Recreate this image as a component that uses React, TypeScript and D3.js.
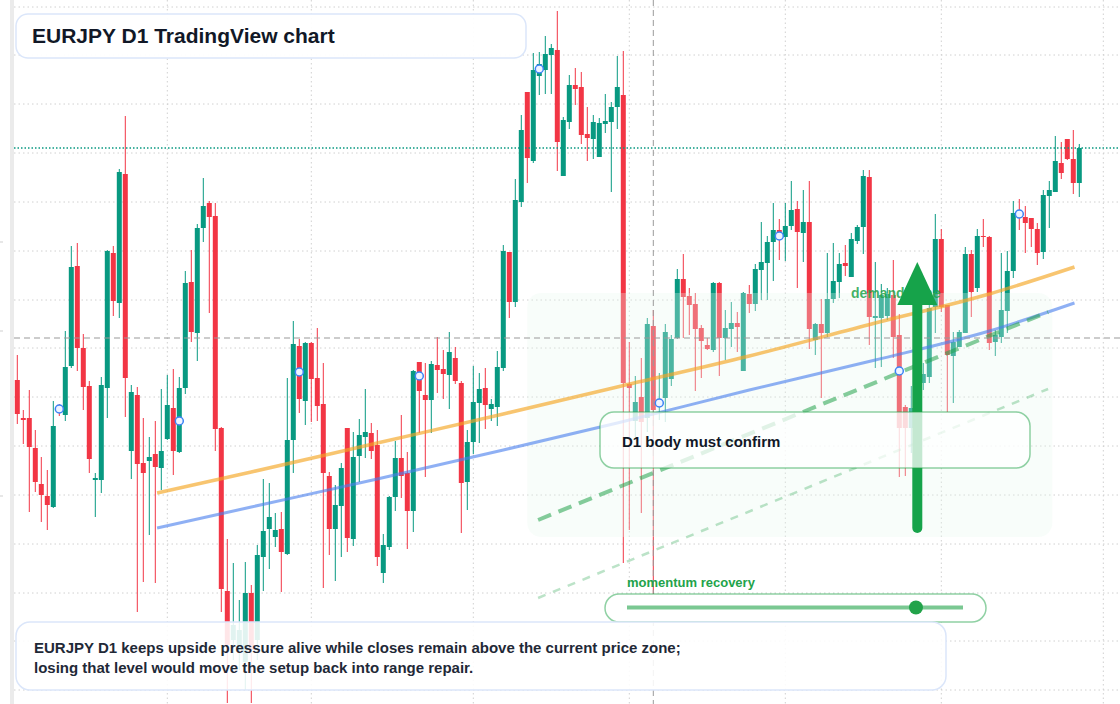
import React from 'react'
import * as d3 from 'd3'

const width = 1120
const height = 704

// daily candles, [open, high, low, close]
const candles: number[][] = [
  [160.20, 160.45, 159.76, 159.86], [159.82, 159.90, 159.56, 159.80], [159.82, 160.10, 158.88, 159.53], [159.52, 159.70, 159.08, 159.18],
  [159.16, 159.43, 158.78, 159.05], [159.04, 159.30, 158.70, 158.95], [158.93, 159.99, 158.92, 159.74], [159.92, 159.96, 159.84, 159.88],
  [159.85, 160.69, 159.79, 160.33], [160.34, 161.54, 160.32, 161.33], [161.34, 161.57, 160.29, 160.52], [160.52, 160.66, 159.90, 160.13],
  [160.14, 160.19, 159.27, 159.41], [159.20, 159.27, 158.83, 159.22], [159.20, 160.23, 159.07, 160.15], [160.12, 161.50, 159.82, 161.49],
  [161.47, 161.54, 160.84, 160.99], [160.97, 162.31, 160.82, 162.28], [162.26, 162.84, 159.83, 160.22], [159.49, 160.15, 159.21, 160.08],
  [160.05, 160.13, 157.88, 159.36], [159.37, 159.82, 158.18, 159.27], [159.39, 159.63, 158.65, 159.43], [159.46, 159.79, 158.17, 159.33],
  [159.32, 160.11, 159.10, 159.49], [159.61, 160.25, 159.60, 159.95], [159.92, 160.31, 159.25, 159.49], [159.48, 160.23, 159.47, 160.12],
  [160.12, 161.29, 160.06, 161.17], [161.18, 161.50, 160.58, 160.68], [160.67, 161.76, 160.39, 161.72], [161.72, 162.22, 161.58, 161.94],
  [161.97, 161.99, 160.87, 161.83], [161.84, 161.97, 159.49, 159.71], [159.72, 159.73, 157.88, 158.11], [158.09, 158.61, 156.97, 157.55],
  [157.60, 158.37, 157.40, 157.75], [157.50, 158.00, 157.30, 157.70], [157.38, 158.38, 157.10, 158.07], [158.07, 158.15, 156.97, 157.50],
  [157.60, 158.55, 157.40, 158.45], [158.43, 159.21, 158.09, 158.69], [158.71, 159.17, 158.31, 158.83], [158.63, 158.87, 158.53, 158.70],
  [158.71, 158.88, 158.08, 158.48], [158.46, 160.22, 158.45, 159.60], [159.60, 160.79, 159.27, 160.56], [160.54, 160.61, 159.87, 160.01],
  [159.99, 160.58, 159.75, 160.57], [160.57, 160.58, 159.78, 160.21], [160.22, 160.72, 159.79, 159.94], [159.96, 160.37, 158.12, 159.27],
  [159.24, 159.28, 158.45, 158.71], [158.71, 159.15, 158.19, 158.95], [158.94, 159.37, 158.43, 159.32], [159.72, 159.72, 158.48, 158.62],
  [158.61, 159.68, 158.54, 159.43], [159.44, 159.81, 159.18, 159.65], [159.63, 160.11, 159.42, 159.68], [159.67, 159.77, 159.41, 159.49],
  [159.55, 159.70, 158.34, 158.43], [158.27, 158.66, 158.17, 158.55], [158.53, 159.04, 158.50, 159.03], [159.03, 159.59, 158.89, 159.42],
  [159.42, 159.85, 159.02, 159.24], [159.27, 159.48, 158.51, 158.89], [158.89, 160.30, 158.68, 160.29], [160.38, 160.38, 159.67, 160.09],
  [160.05, 160.37, 159.23, 160.00], [160.00, 160.39, 159.67, 160.36], [160.35, 160.63, 160.07, 160.30], [160.31, 160.50, 160.01, 160.26],
  [160.25, 160.68, 159.91, 160.48], [160.42, 160.53, 160.16, 160.19], [160.17, 160.19, 158.67, 159.17], [159.18, 159.70, 158.90, 159.58],
  [159.58, 160.34, 159.46, 159.98], [159.97, 160.27, 159.57, 160.11], [160.12, 160.32, 159.71, 159.95], [159.91, 160.01, 159.79, 159.96],
  [159.93, 160.49, 159.74, 160.33], [160.32, 161.55, 160.29, 161.49], [161.48, 161.48, 160.82, 160.98], [160.98, 162.21, 160.93, 162.00],
  [161.98, 162.85, 161.93, 162.70], [163.08, 163.08, 162.17, 162.42], [162.39, 163.47, 162.37, 163.30], [163.24, 163.48, 163.05, 163.36],
  [163.30, 163.64, 163.06, 163.46], [163.45, 163.56, 163.06, 163.52], [163.50, 163.89, 162.29, 162.58], [162.24, 162.83, 162.24, 162.80],
  [162.78, 163.25, 162.71, 163.15], [163.15, 163.32, 162.95, 163.11], [163.13, 163.28, 162.56, 162.65], [162.66, 162.93, 162.39, 162.62],
  [162.61, 162.85, 162.41, 162.78], [162.43, 162.82, 162.43, 162.77], [162.76, 163.06, 162.67, 162.79], [162.78, 162.98, 162.08, 162.93],
  [162.93, 163.44, 162.71, 163.13], [163.05, 163.49, 158.37, 160.17], [160.16, 160.58, 158.70, 160.12], [159.79, 160.24, 159.60, 159.98],
  [160.03, 160.42, 158.87, 159.78], [159.82, 160.82, 159.68, 160.76], [160.74, 160.90, 158.00, 159.90], [159.96, 160.27, 159.80, 160.00],
  [160.02, 160.76, 159.78, 160.68], [160.21, 160.65, 160.14, 160.61], [160.62, 161.31, 160.61, 161.21], [161.21, 161.46, 160.62, 161.03],
  [161.04, 161.12, 160.65, 160.95], [160.96, 161.07, 160.09, 160.71], [160.72, 160.75, 160.22, 160.59], [160.55, 160.62, 160.50, 160.51],
  [160.50, 161.18, 160.48, 161.17], [161.17, 161.18, 160.24, 160.62], [160.62, 160.90, 160.40, 160.72], [160.71, 160.98, 160.53, 160.77],
  [160.77, 160.88, 160.48, 160.73], [160.29, 161.08, 160.29, 161.07], [161.06, 161.15, 160.87, 160.96], [160.96, 161.36, 160.89, 161.31],
  [161.30, 161.78, 161.00, 161.38], [161.37, 161.64, 161.00, 161.58], [161.58, 161.97, 161.19, 161.70], [161.70, 161.81, 161.40, 161.64],
  [161.63, 161.97, 161.39, 161.74], [161.74, 162.19, 161.70, 161.90], [161.91, 161.99, 161.12, 161.68], [161.67, 162.10, 161.38, 161.78],
  [161.78, 162.19, 160.51, 160.71], [160.60, 160.77, 160.45, 160.76], [160.76, 161.01, 160.02, 160.67], [160.67, 161.47, 160.63, 161.01],
  [161.01, 161.57, 160.97, 161.19], [161.18, 161.47, 161.02, 161.36], [161.37, 161.55, 161.24, 161.34], [161.23, 161.67, 161.23, 161.61],
  [161.59, 161.75, 161.56, 161.73], [161.73, 162.30, 161.46, 162.24], [162.23, 162.30, 160.55, 160.83], [160.82, 161.38, 160.32, 160.84],
  [160.82, 161.16, 160.33, 161.05], [160.84, 161.12, 160.80, 161.06], [161.05, 161.40, 160.42, 160.63], [160.65, 160.86, 159.23, 159.72],
  [159.93, 159.95, 159.24, 159.72], [159.72, 160.14, 159.47, 159.92], [160.00, 160.30, 159.90, 160.20], [160.17, 160.37, 160.10, 160.26],
  [160.23, 161.03, 160.17, 160.92], [160.93, 161.86, 160.67, 161.61], [161.61, 161.71, 160.88, 160.93], [160.95, 160.95, 159.88, 160.45],
  [160.44, 160.68, 159.97, 160.58], [160.53, 160.70, 160.53, 160.68], [160.67, 161.53, 160.67, 161.46], [161.46, 161.50, 160.83, 161.08],
  [161.12, 161.71, 161.08, 161.64], [161.64, 161.81, 161.53, 161.63], [161.63, 161.64, 160.50, 160.57], [160.58, 160.70, 160.44, 160.65],
  [160.63, 161.47, 160.57, 160.90], [160.89, 161.49, 160.67, 161.29], [161.29, 161.99, 161.22, 161.87], [161.89, 162.01, 161.70, 161.83],
  [161.83, 161.94, 161.47, 161.77], [161.82, 161.82, 161.53, 161.71], [161.71, 161.77, 161.35, 161.47], [161.48, 162.10, 161.41, 162.05],
  [162.04, 162.19, 161.72, 162.10], [162.08, 162.64, 162.08, 162.39], [162.37, 162.58, 162.21, 162.27], [162.61, 162.61, 162.40, 162.41],
  [162.41, 162.70, 162.06, 162.17], [162.17, 162.56, 162.03, 162.52],
]

// horizontal grid (price) and vertical grid (bar index)
const priceGrid = [163.93, 163.45, 162.96, 162.47, 161.98, 161.49, 161.00, 160.52, 160.03, 159.54, 159.05, 158.56, 158.07, 157.59, 157.10]
const timeGrid = [25, 49, 76, 102, 128, 154, 181]

// moving averages sampled at bar indices
const maIdx = [23.3, 39, 60, 81, 100, 122, 143, 162, 176.2]
const maFast = [159.07, 159.28, 159.57, 159.86, 160.13, 160.44, 160.77, 161.06, 161.33]
const maSlow = [158.72, 158.93, 159.21, 159.50, 159.77, 160.10, 160.40, 160.69, 160.97]

// rising channel
const channelIdx = [86.8, 171.8]
const channelUpper = [158.80, 160.88]
const channelLower = [158.02, 160.11]

// demand zone [startIdx, endIdx], [top, bottom]
const zoneIdx = [85, 172.5]
const zonePrice = [161.07, 158.63]

const markerIdx = [7, 27, 47, 67, 87, 107, 127, 147, 167]
const markerVals = [159.91, 159.79, 160.28, 160.24, 163.31, 159.97, 161.64, 160.29, 161.86]

const lastPrice = 162.52
const refPrice = 160.62
const crossIdx = 106

const arrowIdx = 150
const arrowFrom = 158.72
const arrowTo = 161.38

const momentum = 0.86

const titleText = 'EURJPY D1 TradingView chart'
const noteLines = [
  'EURJPY D1 keeps upside pressure alive while closes remain above the current price zone;',
  'losing that level would move the setup back into range repair.',
]

const font = '"Liberation Sans", Arial, Helvetica, sans-serif'
const up = '#089981'
const down = '#f23645'
const green = '#22a34a'

export default function App() {
  const x = d3.scaleLinear().domain([0, 177]).range([17.3, 1079.3])
  const y = d3.scaleLinear().domain([164, 156.96]).range([0, height])
  const bodyW = 5

  const maLine = (vals: number[]) =>
    d3.line<number>().x((_, i) => x(maIdx[i])).y(d => y(d)).curve(d3.curveMonotoneX)(vals) || ''
  const straight = (vals: number[]) =>
    d3.line<number>().x((_, i) => x(channelIdx[i])).y(d => y(d))(vals) || ''

  const ax = x(arrowIdx)
  const ay0 = y(arrowFrom)
  const ay1 = y(arrowTo)

  const sliderX = d3.scaleLinear().domain([0, 1]).range([627, 963])

  return (
    <svg width={width} height={height} style={{ position: 'absolute', left: 0, top: 0 }} fontFamily={font}>
      <rect width={width} height={height} fill="#fff" />
      <rect x={10} y={0} width={4} height={height} fill="#ebebeb" />
      {[242, 331, 496].map(t => (
        <line key={t} x1={0} x2={3} y1={t} y2={t} stroke="#cfcfcf" />
      ))}

      {priceGrid.map(p => (
        <line key={p} x1={14} x2={width} y1={y(p)} y2={y(p)} stroke="#d0d0d0" strokeDasharray="1.5 3" />
      ))}
      {timeGrid.map(t => (
        <line key={t} x1={x(t)} x2={x(t)} y1={0} y2={height} stroke="#d0d0d0" strokeDasharray="1.5 3" />
      ))}

      {candles.map((c, i) => {
        const [o, h, l, cl] = c
        const col = cl >= o ? up : down
        const top = y(Math.max(o, cl))
        const bh = Math.max(1, Math.abs(y(o) - y(cl)))
        return (
          <g key={i}>
            <line x1={x(i)} x2={x(i)} y1={y(h)} y2={y(l)} stroke={col} strokeWidth={1} />
            <rect x={x(i) - bodyW / 2} y={top} width={bodyW} height={bh} fill={col} />
          </g>
        )
      })}

      <rect x={x(zoneIdx[0])} y={y(zonePrice[0])} width={x(zoneIdx[1]) - x(zoneIdx[0])}
        height={y(zonePrice[1]) - y(zonePrice[0])} rx={14} fill="#e9f9ef" fillOpacity={0.3} />

      <path d={maLine(maFast)} fill="none" stroke="#f5a623" strokeOpacity={0.65} strokeWidth={3.5} />
      <path d={maLine(maSlow)} fill="none" stroke="#4a80ee" strokeOpacity={0.62} strokeWidth={3} />
      <path d={straight(channelUpper)} fill="none" stroke={green} strokeOpacity={0.55} strokeWidth={4} strokeDasharray="14 8" />
      <path d={straight(channelLower)} fill="none" stroke={green} strokeOpacity={0.3} strokeWidth={2.5} strokeDasharray="8 8" />

      <line x1={14} x2={width} y1={y(lastPrice)} y2={y(lastPrice)} stroke={up} strokeWidth={1.5} strokeDasharray="1.5 2" />
      <line x1={14} x2={width} y1={y(refPrice)} y2={y(refPrice)} stroke="#9a9a9a" strokeWidth={1.2} strokeDasharray="6 4" />
      <line x1={x(crossIdx)} x2={x(crossIdx)} y1={0} y2={height} stroke="#9a9a9a" strokeWidth={1} strokeDasharray="6 4" />

      {markerIdx.map((m, i) => (
        <circle key={m} cx={x(m)} cy={y(markerVals[i])} r={4} fill="#eef4ff" stroke="#3b82f6" strokeWidth={1.5} />
      ))}

      <text x={851} y={298} fontSize={14} fontWeight="bold" fill={green} fillOpacity={0.85}>demand zone</text>

      <line x1={ax} x2={ax} y1={ay0} y2={ay1 + 30} stroke="#16a34a" strokeWidth={10} strokeLinecap="round" />
      <path d={`M${ax - 20},${ay1 + 43} L${ax},${ay1} L${ax + 20},${ay1 + 43} Z`} fill="#16a34a" />

      <rect x={600} y={412} width={430} height={56} rx={14} fill="#fff" fillOpacity={0.75}
        stroke={green} strokeOpacity={0.5} strokeWidth={1.5} />
      <text x={622} y={447} fontSize={15} fontWeight="bold" fill="#111827">D1 body must confirm</text>

      <text x={627} y={587} fontSize={13} fontWeight="bold" fill={green}>momentum recovery</text>
      <rect x={605} y={594} width={381} height={28} rx={14} fill="#fff" stroke={green} strokeOpacity={0.5} strokeWidth={1.5} />
      <line x1={sliderX(0)} x2={sliderX(1)} y1={607.5} y2={607.5} stroke={green} strokeOpacity={0.6} strokeWidth={4} />
      <circle cx={sliderX(momentum)} cy={607.5} r={7} fill={green} />

      <rect x={16} y={14} width={510} height={44} rx={12} fill="#fff" fillOpacity={0.95} stroke="#dbe6fa" strokeWidth={1.5} />
      <text x={32} y={43.3} fontSize={21} fontWeight="bold" fill="#111827">{titleText}</text>

      <rect x={16} y={622} width={930} height={68} rx={14} fill="#fff" fillOpacity={0.88} stroke="#dbe6fa" strokeWidth={1.5} />
      {noteLines.map((t, i) => (
        <text key={i} x={34} y={653 + i * 20} fontSize={15} fontWeight="bold" fill="#1f2937">{t}</text>
      ))}
    </svg>
  )
}
